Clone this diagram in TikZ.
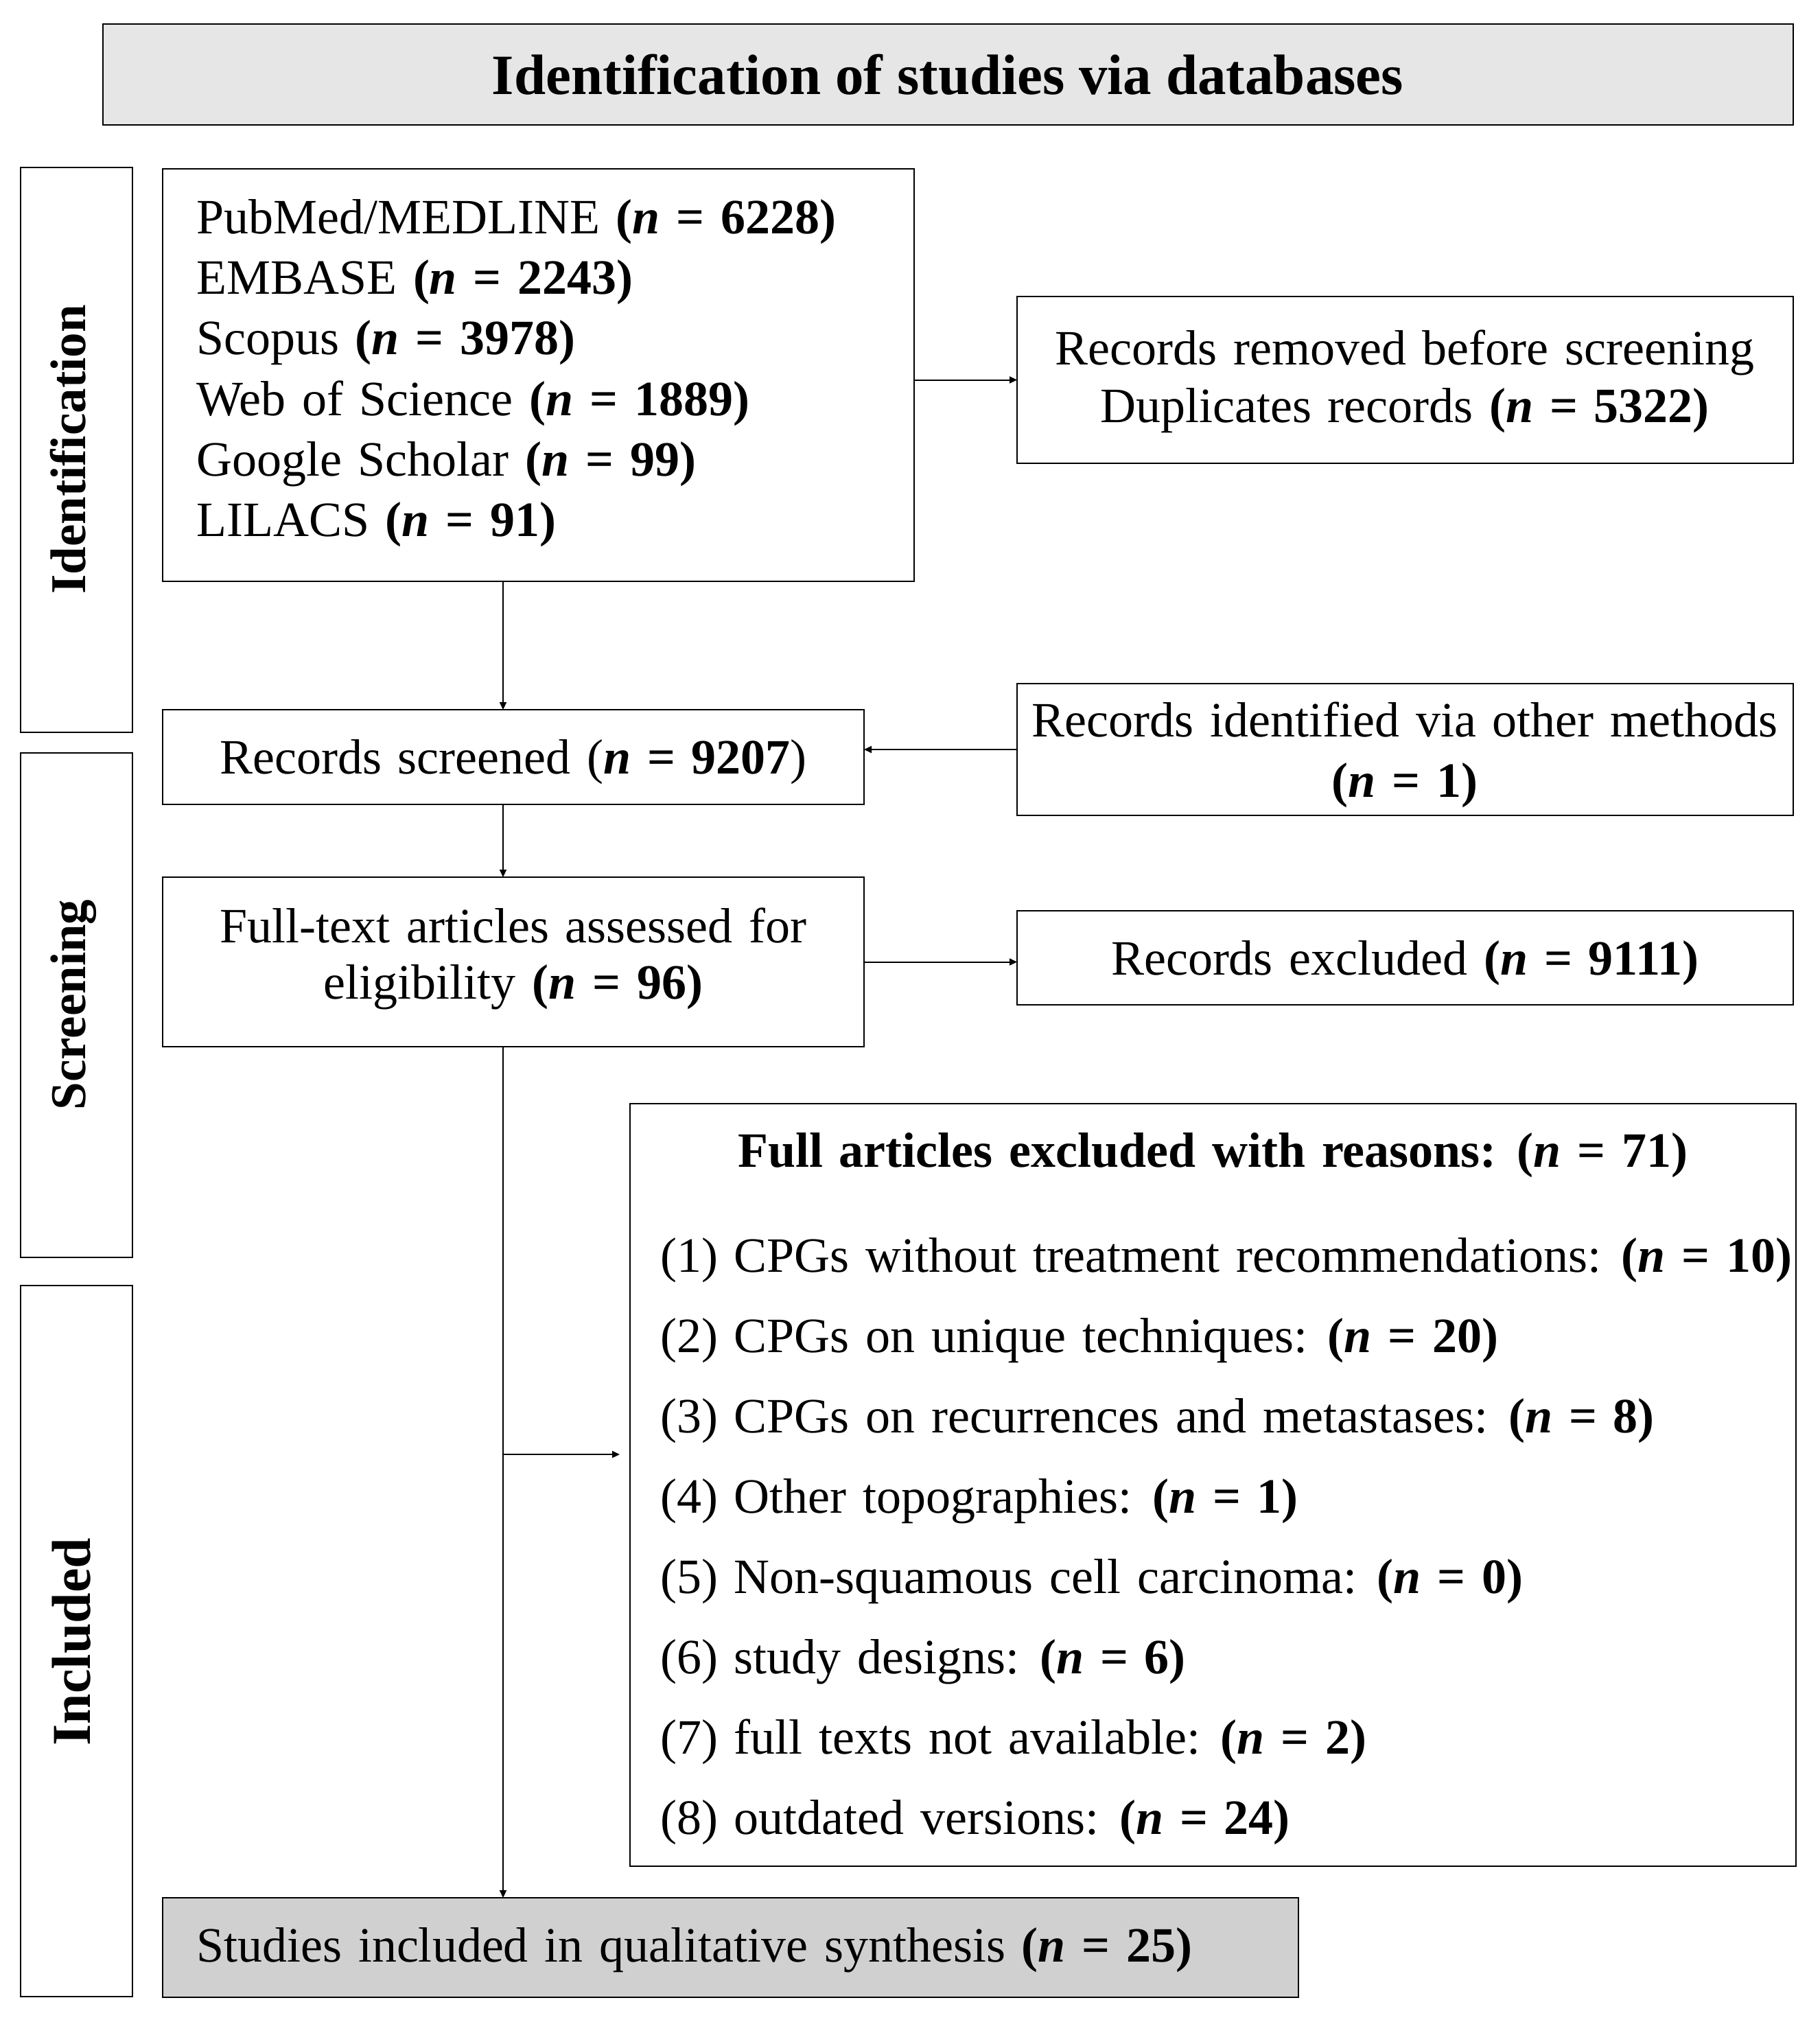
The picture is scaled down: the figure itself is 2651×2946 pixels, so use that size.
\documentclass[tikz,border=0pt]{standalone}
\usepackage{fontspec}
\setmainfont{Liberation Serif}
\usetikzlibrary{arrows.meta}
\definecolor{hdrgray}{HTML}{E6E6E6}
\definecolor{fingray}{HTML}{D0D0D0}
\newcommand{\nv}[1]{(\textbf{\textit{n} = #1})}
\newcommand{\nvb}[1]{\textbf{(\textit{n} = #1)}}
\newcommand{\wsp}{\spaceskip=0.33em\relax}
\newcommand{\mainsz}{\fontsize{72}{86}\selectfont\wsp}
\begin{document}
\begin{tikzpicture}[x=1pt,y=-1pt,
  box/.style={draw=black, line width=2pt, inner sep=0pt, outer sep=0pt, anchor=north west},
  lbl/.style={inner sep=0pt, anchor=base, font=\mainsz},
  lbll/.style={lbl, anchor=base west},
  stagelbl/.style={inner sep=0pt, anchor=base, rotate=90, font=\fontsize{73}{88}\selectfont\bfseries},
  arr/.style={line width=2pt, -{Triangle[length=11pt,width=10pt]}}]
\useasboundingbox (0,0) rectangle (2651,2946);
% boxes
\node[box, fill=hdrgray, minimum width=2463, minimum height=147] (hdr) at (150,35) {};
\node[box, minimum width=163, minimum height=823] (sid) at (30,244) {};
\node[box, minimum width=163, minimum height=735] (ssc) at (30,1097) {};
\node[box, minimum width=163, minimum height=1036] (sin) at (30,1873) {};
\node[box, minimum width=1095, minimum height=601] (db) at (237,246) {};
\node[box, minimum width=1131, minimum height=243] (rem) at (1482,432) {};
\node[box, minimum width=1022, minimum height=138] (scr) at (237,1034) {};
\node[box, minimum width=1131, minimum height=192] (oth) at (1482,996) {};
\node[box, minimum width=1022, minimum height=247] (ft) at (237,1278) {};
\node[box, minimum width=1131, minimum height=137] (exc) at (1482,1327) {};
\node[box, minimum width=1699, minimum height=1111] (rsn) at (918,1608) {};
\node[box, fill=fingray, minimum width=1655, minimum height=145] (fin) at (237,2765) {};
% header
\node[inner sep=0pt, anchor=base, font=\fontsize{83}{100}\selectfont\bfseries] (hdrt) at (1381,138) {Identification of studies via databases};
% stage labels
\node[stagelbl] (sidt) at (124,655) {Identification};
\node[stagelbl] (ssct) at (124,1464) {Screening};
\node[stagelbl, font=\fontsize{80}{96}\selectfont\bfseries] (sint) at (131,2392) {Included};
% database list
\node[lbll] (db1) at (286,340) {PubMed/MEDLINE \nvb{6228}};
\node[lbll] (db2) at (286,428) {EMBASE \nvb{2243}};
\node[lbll] (db3) at (286,516) {Scopus \nvb{3978}};
\node[lbll] (db4) at (286,605) {Web of Science \nvb{1889}};
\node[lbll] (db5) at (286,693) {Google Scholar \nvb{99}};
\node[lbll] (db6) at (286,781) {LILACS \nvb{91}};
% removed
\node[lbl] (rem1) at (2047,531) {Records removed before screening};
\node[lbl] (rem2) at (2047,615) {Duplicates records \nvb{5322}};
% screened
\node[lbl] (scrt) at (748,1127) {Records screened \nv{9207}};
% other methods
\node[lbl] (oth1) at (2047,1073) {Records identified via other methods};
\node[lbl] (oth2) at (2047,1161) {\nvb{1}};
% full text
\node[lbl] (ft1) at (748,1373) {Full-text articles assessed for};
\node[lbl] (ft2) at (748,1455) {eligibility \nvb{96}};
% excluded
\node[lbl] (exct) at (2047,1420) {Records excluded \nvb{9111}};
% reasons
\node[lbl, font=\mainsz\bfseries] (rsnt) at (1767,1700) {Full articles excluded with reasons: (\textit{n} = 71)};
\node[lbll] (r1) at (962,1853) {(1) CPGs without treatment recommendations: \nvb{10}};
\node[lbll] (r2) at (962,1970) {(2) CPGs on unique techniques: \nvb{20}};
\node[lbll] (r3) at (962,2087) {(3) CPGs on recurrences and metastases: \nvb{8}};
\node[lbll] (r4) at (962,2204) {(4) Other topographies: \nvb{1}};
\node[lbll] (r5) at (962,2321) {(5) Non-squamous cell carcinoma: \nvb{0}};
\node[lbll] (r6) at (962,2438) {(6) study designs: \nvb{6}};
\node[lbll] (r7) at (962,2555) {(7) full texts not available: \nvb{2}};
\node[lbll] (r8) at (962,2672) {(8) outdated versions: \nvb{24}};
% final
\node[lbll] (fint) at (286,2858) {Studies included in qualitative synthesis \nvb{25}};
% connectors
\coordinate (xc) at (733,0);
\coordinate (br) at (733,2119);
\coordinate (rin) at ([xshift=-15pt]rsn.west);
\draw[arr] (db.south -| xc) -- (scr.north -| xc);
\draw[arr] (rem.west -| db.east) -- (rem.west);
\draw[arr] (oth.west) -- (oth.west -| scr.east);
\draw[arr] (scr.south -| xc) -- (ft.north -| xc);
\draw[arr] (ft.east) -- (ft.east -| exc.west);
\draw[arr] (ft.south -| xc) -- (fin.north -| xc);
\draw[arr] (br) -- (rin |- br);
\end{tikzpicture}
\end{document}
